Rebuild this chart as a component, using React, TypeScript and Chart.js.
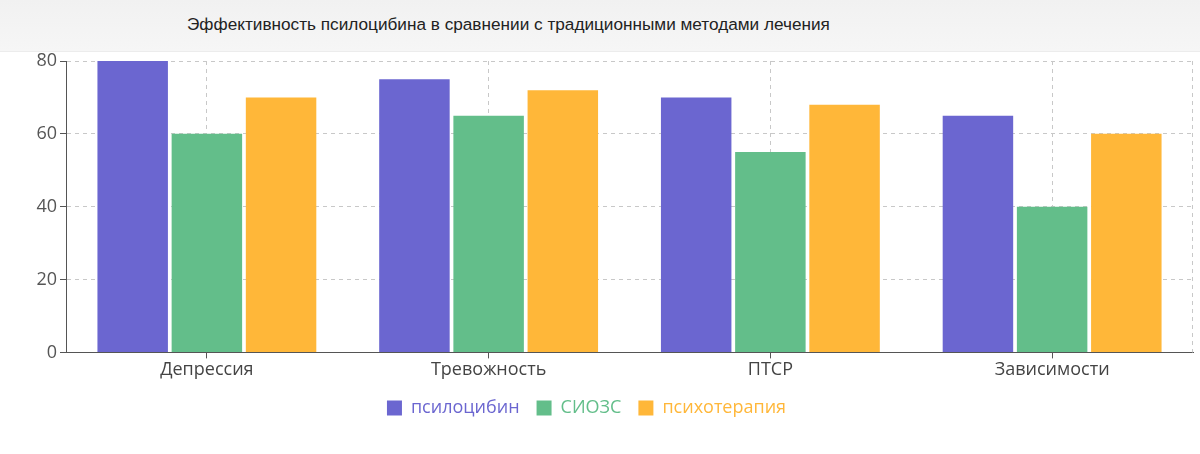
import React, { useEffect, useRef } from "react";
import { Chart, registerables } from "chart.js";

Chart.register(...registerables);

const title = "Эффективность псилоцибина в сравнении с традиционными методами лечения";
const categories = ["Депрессия", "Тревожность", "ПТСР", "Зависимости"];
const psilocybin = [80, 75, 70, 65];
const ssri = [60, 65, 55, 40];
const psychotherapy = [70, 72, 68, 60];
const seriesNames = ["псилоцибин", "СИОЗС", "психотерапия"];
const colors = ["#6b66d0", "#63be8a", "#ffb739"];
const yTicks = [0, 20, 40, 60, 80];

const rightEdge = {
  id: "rightEdge",
  beforeDatasetsDraw(chart: any) {
    const { ctx, chartArea } = chart;
    ctx.save();
    ctx.strokeStyle = "#c8c8c8";
    ctx.lineWidth = 1;
    ctx.setLineDash([4, 4]);
    ctx.beginPath();
    ctx.moveTo(chartArea.right - 0.5, chartArea.top);
    ctx.lineTo(chartArea.right - 0.5, chartArea.bottom);
    ctx.stroke();
    ctx.restore();
  },
};

const legendShift = {
  id: "legendShift",
  afterLayout(chart: any) {
    if (chart.legend) {
      chart.legend.left -= 10;
      chart.legend.right -= 10;
    }
  },
};

export default function App() {
  const ref = useRef<HTMLCanvasElement>(null);
  useEffect(() => {
    if (!ref.current) return;
    const font = "'Open Sans', 'Noto Sans', sans-serif";
    const chart = new Chart(ref.current, {
      type: "bar",
      data: {
        labels: categories,
        datasets: [psilocybin, ssri, psychotherapy].map((d, i) => ({
          label: seriesNames[i],
          data: d,
          backgroundColor: colors[i],
          barPercentage: 0.95,
          categoryPercentage: 0.79,
        })),
      },
      plugins: [rightEdge, legendShift],
      options: {
        animation: false,
        responsive: false,
        devicePixelRatio: 1,
        layout: { padding: { left: 0, right: 7, top: 9, bottom: 27 } },
        scales: {
          x: {
            grid: {
              offset: false,
              color: "#c8c8c8",
              tickColor: "#555",
              tickLength: 6,
            },
            border: { color: "#555", dash: [4, 4] },
            ticks: { color: "#444", font: { family: font, size: 18 }, padding: 1 },
          },
          y: {
            min: 0,
            max: 80,
            afterBuildTicks: (scale: any) => {
              scale.ticks = yTicks.map((v) => ({ value: v }));
            },
            afterFit: (scale: any) => {
              scale.width = 66;
              scale.paddingTop = 0;
              scale.paddingBottom = 0;
            },
            grid: { color: "#c8c8c8", tickColor: "#555", tickLength: 6 },
            border: { color: "#555", dash: [4, 4] },
            ticks: { color: "#555", font: { family: font, size: 18 }, padding: 3 },
          },
        },
        plugins: {
          legend: {
            position: "bottom",
            labels: {
              boxWidth: 15,
              boxHeight: 15,
              padding: 17,
              font: { family: font, size: 18 },
              generateLabels: (c: any) =>
                c.data.datasets.map((ds: any, i: number) => ({
                  text: ds.label,
                  fillStyle: colors[i],
                  strokeStyle: colors[i],
                  lineWidth: 0,
                  fontColor: colors[i],
                  datasetIndex: i,
                  hidden: false,
                })),
            },
          },
          tooltip: { enabled: false },
        },
      },
    });
    return () => chart.destroy();
  }, []);
  return (
    <div style={{ position: "absolute", left: 0, top: 0, width: 1200, height: 454, background: "#fff" }}>
      <div
        style={{
          position: "absolute",
          left: 0,
          top: 0,
          width: 1200,
          height: 52,
          background: "linear-gradient(#f1f1f1, #f6f6f6)",
          borderBottom: "1px solid #ececec",
          boxSizing: "border-box",
        }}
      >
        <div
          style={{
            position: "absolute",
            left: 187,
            top: 14,
            fontFamily: "'Liberation Sans', Arial, sans-serif",
            fontSize: 17.2,
            color: "#222",
            whiteSpace: "nowrap",
          }}
        >
          {title}
        </div>
      </div>
      <canvas ref={ref} width={1200} height={402} style={{ position: "absolute", left: 0, top: 52 }} />
    </div>
  );
}
